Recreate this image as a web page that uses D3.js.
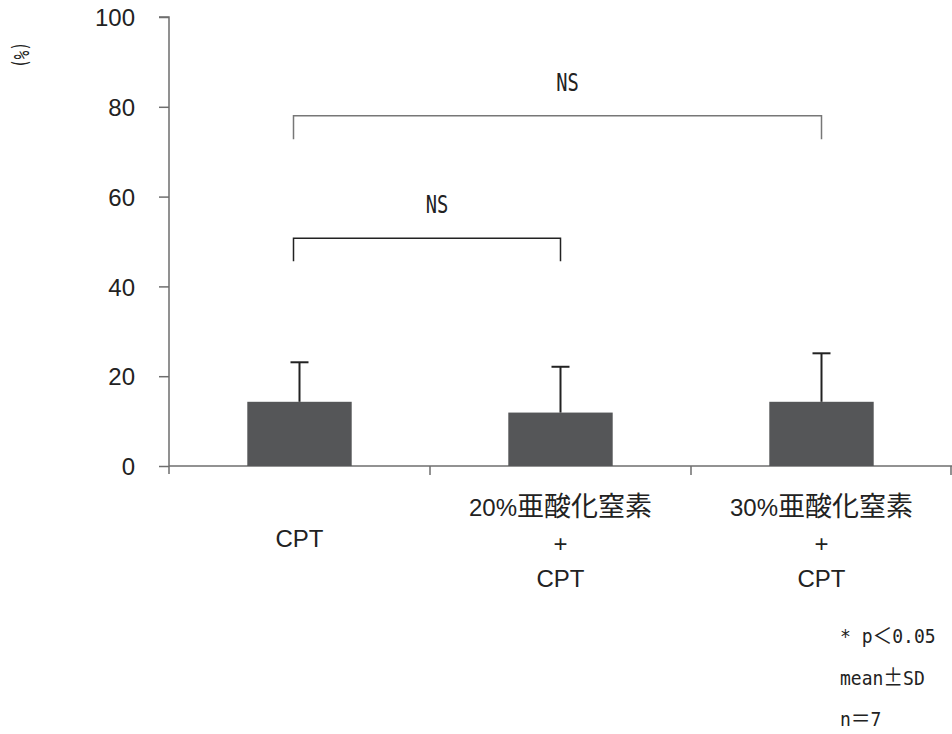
<!DOCTYPE html>
<html>
<head>
<meta charset="utf-8">
<script src="https://cdn.jsdelivr.net/npm/d3@7"></script>
<style>
  html, body { margin: 0; padding: 0; background: #fff; }
  svg { display: block; }
</style>
</head>
<body>
<svg id="chart" width="952" height="734"></svg>
<script>
// Groups, each label given as lines of [text, isCJK] parts
const categories = ["CPT", "20%亜酸化窒素+CPT", "30%亜酸化窒素+CPT"];
const labelLines = [
  [[["CPT", false]]],
  [[["20%", false], ["亜酸化窒素", true]], [["+", false]], [["CPT", false]]],
  [[["30%", false], ["亜酸化窒素", true]], [["+", false]], [["CPT", false]]]
];
const means = [14.3, 11.9, 14.3];
const sds = [8.8, 10.2, 10.8];
const yTicks = [0, 20, 40, 60, 80, 100];

// Significance brackets: group indices, bar height and leg end (in %)
const brackets = [
  { from: 0, to: 2, level: 78, legEnd: 72.8, text: "NS", color: "#777" },
  { from: 0, to: 1, level: 50.7, legEnd: 45.6, text: "NS", color: "#222" }
];
// Footnotes, as [text, isFullWidth] parts
const notes = [
  [["* p", false], ["＜", true], ["0.05", false]],
  [["mean", false], ["±", true], ["SD", false]],
  [["n", false], ["＝", true], ["7", false]]
];

const svg = d3.select("#chart");
const plotLeft = 169, plotRight = 952, plotTop = 17, plotBottom = 466;

const x = d3.scaleBand().domain(categories).range([plotLeft, plotRight])
  .paddingInner(0.6).paddingOuter(0.3);
const y = d3.scaleLinear().domain([0, 100]).range([plotBottom, plotTop]);

const axisColor = "#6e6e6e";
const latinFont = "'Liberation Sans', Arial, sans-serif";
const cjkFont = "'Noto Sans CJK JP', sans-serif";
const monoFont = "'DejaVu Sans Mono', monospace";

// Y axis
const yAxis = svg.append("g")
  .attr("transform", `translate(${plotLeft},0)`)
  .call(d3.axisLeft(y).tickValues(yTicks).tickSize(10).tickPadding(24).tickFormat(d3.format("d")));
yAxis.select(".domain").attr("stroke", axisColor).attr("stroke-width", 1.5)
  .attr("d", `M-10,${y(100)}H0V${plotBottom + 8}`);
yAxis.selectAll(".tick line").attr("stroke", axisColor).attr("stroke-width", 1.5);
yAxis.selectAll(".tick text")
  .attr("font-family", latinFont).attr("font-size", 24).attr("fill", "#222")
  .attr("dy", "0.36em");

// X axis
const xAxis = svg.append("g")
  .attr("transform", `translate(0,${plotBottom})`)
  .call(d3.axisBottom(x).tickSize(0).tickFormat(""));
xAxis.select(".domain").attr("stroke", axisColor).attr("stroke-width", 1.5)
  .attr("d", `M${plotLeft},0H${plotRight}`);
xAxis.selectAll(".tick").remove();
const boundaries = d3.range(1, categories.length + 1).map(i => plotLeft + i * x.step());
xAxis.selectAll("line.bound").data(boundaries).join("line")
  .attr("class", "bound")
  .attr("x1", d => Math.min(d, plotRight - 1)).attr("x2", d => Math.min(d, plotRight - 1))
  .attr("y1", 0).attr("y2", 9)
  .attr("stroke", axisColor).attr("stroke-width", 1.5);

// Bars
svg.append("g").selectAll("rect").data(categories).join("rect")
  .attr("x", d => x(d))
  .attr("width", x.bandwidth())
  .attr("y", (d, i) => y(means[i]))
  .attr("height", (d, i) => y(0) - y(means[i]))
  .attr("fill", "#555658");

// Upward error bars
const eb = svg.append("g").attr("stroke", "#222").attr("stroke-width", 2);
categories.forEach((c, i) => {
  const cx = x(c) + x.bandwidth() / 2;
  eb.append("line").attr("x1", cx).attr("x2", cx)
    .attr("y1", y(means[i])).attr("y2", y(means[i] + sds[i]));
  eb.append("line").attr("x1", cx - 9).attr("x2", cx + 9)
    .attr("y1", y(means[i] + sds[i])).attr("y2", y(means[i] + sds[i]));
});

// Significance brackets
brackets.forEach(b => {
  const x1 = x(categories[b.from]) + x.bandwidth() / 2 - 6;
  const x2 = x(categories[b.to]) + x.bandwidth() / 2;
  svg.append("path")
    .attr("d", `M${x1},${y(b.legEnd)}V${y(b.level)}H${x2}V${y(b.legEnd)}`)
    .attr("fill", "none").attr("stroke", b.color).attr("stroke-width", 1.5);
  svg.append("text")
    .attr("transform", `translate(${(x1 + x2) / 2 + 10},${y(b.level) - 25}) scale(0.78,1)`)
    .attr("text-anchor", "middle")
    .attr("font-family", monoFont).attr("font-size", 24).attr("fill", "#222")
    .text(b.text);
});

// Category labels, each block centred vertically on the middle line
const lineGap = 35.5, middleLine = 551.5;
categories.forEach((c, i) => {
  const cx = x(c) + x.bandwidth() / 2;
  const lines = labelLines[i];
  const first = middleLine - (lines.length - 1) / 2 * lineGap;
  lines.forEach((line, j) => {
    const t = svg.append("text")
      .attr("x", cx).attr("y", first + j * lineGap - (lines.length === 1 ? 5 : 0))
      .attr("text-anchor", "middle").attr("fill", "#222");
    line.forEach(([s, cjk]) => {
      t.append("tspan")
        .attr("font-family", cjk ? cjkFont : latinFont)
        .attr("font-size", cjk ? 27 : 24)
        .text(s);
    });
  });
});

// Y unit label, set vertically
svg.append("text")
  .attr("transform", `translate(14,55) rotate(90) scale(0.65,1)`)
  .attr("text-anchor", "middle")
  .attr("font-family", monoFont).attr("font-size", 22).attr("fill", "#222")
  .text("(%)");

// Footnotes
notes.forEach((parts, i) => {
  const t = svg.append("text")
    .attr("transform", `translate(840,${643 + i * 41.5}) scale(0.9,1)`)
    .attr("fill", "#222");
  parts.forEach(([s, wide]) => {
    t.append("tspan")
      .attr("font-family", wide ? cjkFont : monoFont)
      .attr("font-size", wide ? 22 : 20)
      .text(s);
  });
});
</script>
</body>
</html>
